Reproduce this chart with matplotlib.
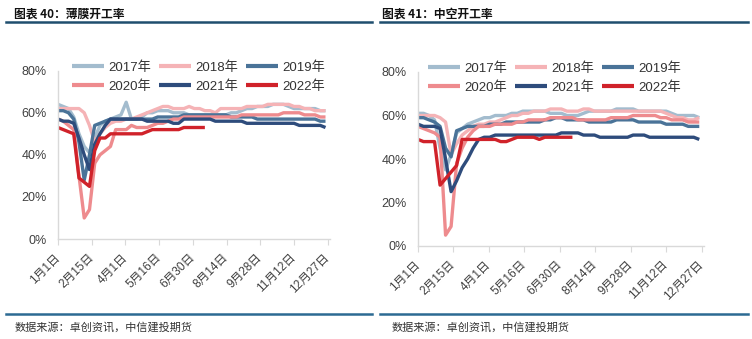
import numpy as np
import matplotlib
matplotlib.use("Agg")
import matplotlib.pyplot as plt
from matplotlib.lines import Line2D

plt.rcParams['font.family'] = ['Liberation Sans', 'Noto Sans CJK SC', 'DejaVu Sans']

# ---------------- data ----------------
tick_days = [0, 45, 90, 135, 180, 225, 270, 315, 360]
tick_labels = ['1月1日', '2月15日', '4月1日', '5月16日', '6月30日', '8月14日', '9月28日', '11月12日', '12月27日']
years = ['2017年', '2018年', '2019年', '2020年', '2021年', '2022年']
colors = ['#A3BCCE', '#F5B3B6', '#4A7398', '#EE8B8E', '#2E4C7C', '#D0222A']

# 薄膜开工率 (weekly, %)
film_2017 = [64, 63, 62, 58, 50, 44, 41, 48, 54, 56, 57, 58, 59, 65, 57, 57, 58, 60, 60, 61,
             61, 61, 60, 60, 60, 59, 59, 59, 59, 59, 59, 59, 59, 60, 60, 61, 62, 62, 63, 63,
             63, 64, 64, 64, 63, 62, 62, 62, 62, 62, 61, 61]
film_2018 = [62, 62, 62, 62, 62, 60, 54, 46, 50, 53, 55, 56, 56, 57, 57, 58, 59, 60, 61, 62,
             63, 63, 62, 62, 62, 63, 62, 62, 61, 61, 60, 62, 62, 62, 62, 62, 63, 63, 63, 63,
             64, 64, 64, 64, 64, 63, 63, 62, 62, 61, 61, 61]
film_2019 = [61, 61, 60, 57, 46, 28, 40, 54, 55, 56, 57, 57, 57, 57, 57, 57, 57, 57, 57, 58,
             58, 58, 58, 58, 59, 59, 59, 59, 59, 59, 59, 59, 59, 58, 58, 58, 58, 58, 57, 57,
             57, 57, 57, 57, 57, 57, 57, 57, 57, 57, 56, 56]
film_2020 = [57, 56, 54, 52, 30, 10, 14, 36, 40, 42, 44, 52, 52, 52, 54, 53, 53, 53, 54, 55,
             55, 56, 57, 57, 58, 58, 58, 58, 58, 58, 58, 58, 58, 58, 58, 59, 59, 59, 59, 59,
             59, 59, 59, 60, 60, 60, 60, 59, 59, 59, 58, 58]
film_2021 = [57, 56, 56, 55, 48, 40, 33, 45, 50, 54, 57, 57, 57, 57, 57, 57, 57, 56, 56, 56,
             56, 56, 55, 55, 57, 57, 57, 57, 57, 57, 56, 56, 56, 56, 56, 56, 55, 55, 55, 55,
             55, 55, 55, 55, 55, 55, 54, 54, 54, 54, 54, 53]
film_2022 = [53, 52, 51, 50, 29, 27, 25, 42, 48, 48, 50, 50, 50, 50, 50, 50, 50, 51, 52, 52,
             52, 52, 52, 52, 53, 53, 53, 53, 53]

# 中空开工率 (weekly, %)
hollow_2017 = [61, 61, 60, 58, 45, 35, 42, 52, 54, 56, 57, 58, 59, 59, 60, 60, 60, 61, 61, 62,
               62, 62, 62, 62, 61, 61, 61, 60, 60, 60, 61, 62, 62, 62, 62, 62, 63, 63, 63, 63,
               62, 62, 62, 62, 62, 62, 61, 60, 60, 60, 60, 59]
hollow_2018 = [60, 60, 60, 60, 59, 57, 42, 47, 51, 53, 55, 56, 56, 57, 57, 58, 59, 60, 60, 61,
               61, 62, 62, 62, 63, 63, 63, 62, 62, 62, 63, 63, 62, 62, 62, 62, 62, 62, 62, 62,
               62, 62, 62, 62, 62, 61, 60, 59, 59, 58, 58, 59]
hollow_2019 = [59, 59, 58, 57, 55, 45, 41, 53, 54, 55, 55, 55, 55, 56, 56, 56, 57, 57, 57, 57,
               57, 57, 57, 58, 58, 59, 59, 58, 58, 58, 58, 57, 57, 57, 57, 57, 58, 58, 58, 58,
               57, 57, 57, 57, 57, 56, 56, 56, 56, 55, 55, 55]
hollow_2020 = [55, 54, 53, 52, 50, 5, 9, 38, 45, 50, 53, 55, 55, 55, 56, 56, 56, 56, 57, 57,
               58, 58, 58, 58, 59, 59, 59, 59, 59, 58, 58, 58, 58, 58, 58, 59, 59, 59, 59, 60,
               60, 60, 60, 60, 59, 59, 58, 58, 58, 57, 57, 57]
hollow_2021 = [56, 55, 55, 55, 54, 40, 25, 30, 36, 40, 45, 49, 50, 50, 51, 51, 51, 51, 51, 51,
               51, 51, 51, 51, 51, 51, 52, 52, 52, 52, 51, 51, 51, 50, 50, 50, 50, 50, 50, 51,
               51, 51, 50, 50, 50, 50, 50, 50, 50, 50, 50, 49]
hollow_2022 = [49, 48, 48, 48, 28, 31, 34, 37, 49, 49, 49, 49, 49, 49, 49, 48, 48, 49, 50, 50,
               50, 50, 49, 50, 50, 50, 50, 50, 50]

film = [film_2017, film_2018, film_2019, film_2020, film_2021, film_2022]
hollow = [hollow_2017, hollow_2018, hollow_2019, hollow_2020, hollow_2021, hollow_2022]

# ---------------- figure ----------------
W, H = 752, 339
fig = plt.figure(figsize=(W / 100, H / 100), dpi=100)


def fx(px):
    return px / W


def fy(py):
    return 1 - py / H


def make_panel(rect, series, legend_pos):
    ax = fig.add_axes(rect)
    handles = []
    for vals, c, lab in zip(series, colors, years):
        days = np.arange(len(vals)) * 7
        h, = ax.plot(days, vals, color=c, lw=2.4, label=lab, solid_capstyle='butt')
        handles.append(h)
    ax.set_xlim(0, 363)
    ax.set_ylim(0, 80)
    ax.set_yticks([0, 20, 40, 60, 80])
    ax.set_yticklabels(['0%', '20%', '40%', '60%', '80%'])
    ax.set_xticks(tick_days)
    ax.set_xticklabels(tick_labels, rotation=45, ha='right', va='center',
                       rotation_mode='anchor')
    for s in ['top', 'right']:
        ax.spines[s].set_visible(False)
    for s in ['left', 'bottom']:
        ax.spines[s].set_color('#D9D9D9')
        ax.spines[s].set_linewidth(1.0)
    ax.tick_params(axis='x', colors='#D9D9D9', labelcolor='#404040', length=4,
                   labelsize=8.5, pad=8)
    ax.tick_params(axis='y', colors='#D9D9D9', labelcolor='#404040', length=0,
                   labelsize=9, pad=8)
    ax.set_facecolor('none')
    # row-wise legend order: 2017 2018 2019 / 2020 2021 2022
    order = [0, 3, 1, 4, 2, 5]
    leg = ax.legend([handles[i] for i in order], [years[i] for i in order],
                    ncol=3, loc='upper left', bbox_to_anchor=legend_pos,
                    bbox_transform=fig.transFigure, frameon=False, fontsize=9.5,
                    handlelength=2.4, handletextpad=0.35, columnspacing=0.6,
                    labelspacing=0.5, borderpad=0, borderaxespad=0)
    for t in leg.get_texts():
        t.set_color('#333333')
    for l in leg.get_lines():
        l.set_linewidth(3)
    return ax


ax1 = make_panel([fx(58), fy(239), fx(330 - 58), (239 - 70.7) / H], film, (fx(72), fy(61)))
ax2 = make_panel([fx(418), fy(246), fx(704 - 418), (246 - 72) / H], hollow, (fx(428), fy(62)))

# titles
title_font = dict(family=['Noto Sans CJK SC', 'DejaVu Sans'], weight='bold', fontsize=8.5,
                  color='#111111', va='center', ha='left')
fig.text(fx(14), fy(14), '图表 40：薄膜开工率', **title_font)
fig.text(fx(382), fy(14), '图表 41：中空开工率', **title_font)

# rules
for x0, x1 in [(6, 372), (380, 748)]:
    fig.add_artist(Line2D([fx(x0), fx(x1)], [fy(22), fy(22)], color='#1F4E6E', lw=1.8))
    fig.add_artist(Line2D([fx(x0), fx(x1)], [fy(313.5), fy(313.5)], color='#2C6A93', lw=1.8))

src_font = dict(family=['Noto Sans CJK SC', 'DejaVu Sans'], fontsize=8, color='#333333',
                va='center', ha='left', style='italic')
fig.text(fx(15), fy(327), '数据来源：卓创资讯，中信建投期货', **src_font)
fig.text(fx(392), fy(327), '数据来源：卓创资讯，中信建投期货', **src_font)

fig.savefig('out.png', dpi=100)
